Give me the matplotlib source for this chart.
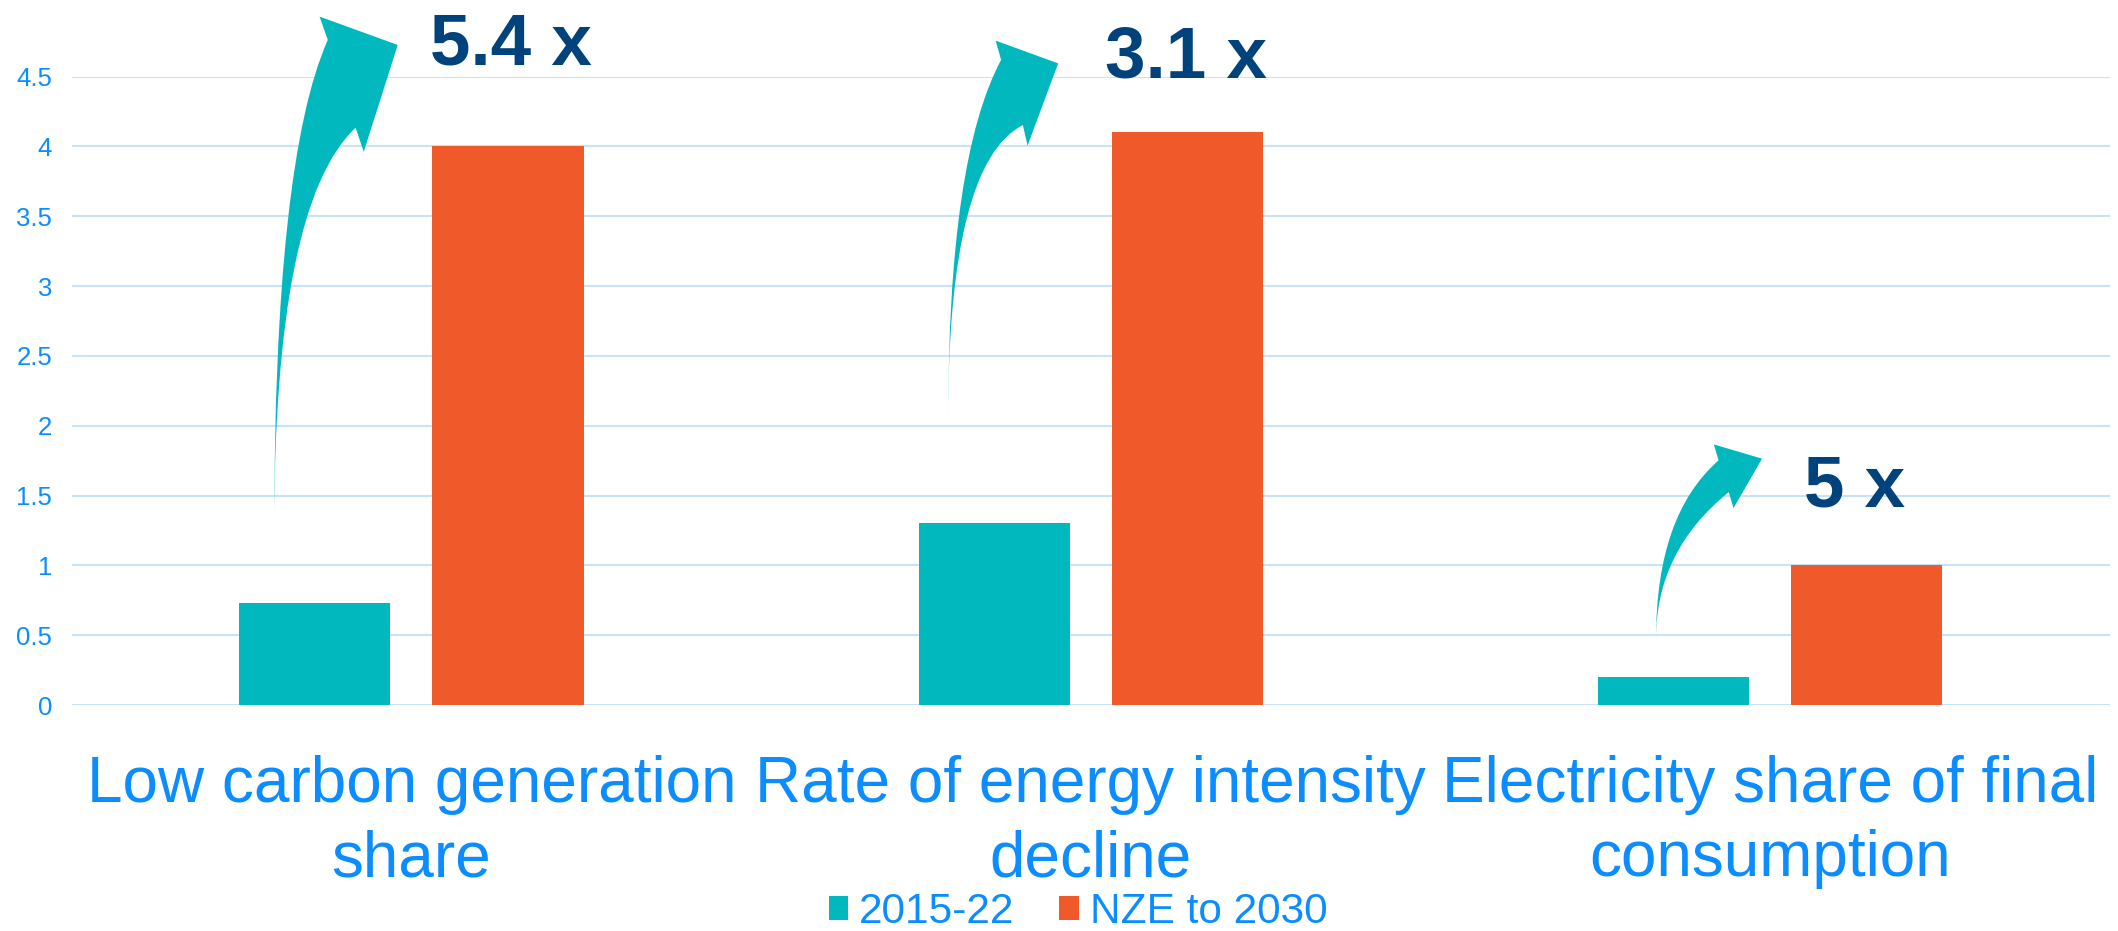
import matplotlib.pyplot as plt
import numpy as np
from matplotlib.path import Path
from matplotlib.patches import PathPatch

plt.rcParams['font.family'] = ['Liberation Sans', 'DejaVu Sans']

categories = ['Low carbon generation\nshare',
              'Rate of energy intensity\ndecline',
              'Electricity share of final\nconsumption']
series = ['2015-22', 'NZE to 2030']
hist = [0.73, 1.3, 0.2]
nze = [4.0, 4.1, 1.0]
multipliers = ['5.4 x', '3.1 x', '5 x']
yticks = [0, 0.5, 1, 1.5, 2, 2.5, 3, 3.5, 4, 4.5]
ytick_labels = ['0', '0.5', '1', '1.5', '2', '2.5', '3', '3.5', '4', '4.5']

teal = '#02b8bf'
orange = '#f05a2b'
blue = '#0b8cff'
navy = '#00427c'

# curved arrow outlines in data units:
# tail, outer ctrl, L, T, R(tip), B, N, inner ctrl
arrow_shapes = [
    [(-0.202, 1.234), (-0.202, 3.896), (-0.123, 4.762), (-0.135, 4.929),
     (-0.020, 4.726), (-0.070, 3.961), (-0.082, 4.134), (-0.202, 3.587)],
    [(0.790, 2.038), (0.790, 3.911), (0.868, 4.619), (0.860, 4.757),
     (0.952, 4.594), (0.907, 4.005), (0.900, 4.153), (0.790, 3.877)],
    [(1.832, 0.479), (1.832, 1.360), (1.924, 1.752), (1.917, 1.866),
     (1.988, 1.764), (1.946, 1.410), (1.939, 1.525), (1.832, 1.104)],
]
label_pos = [(0.027, 4.585), (1.021, 4.49), (2.050, 1.42)]

fig = plt.figure(figsize=(21.18, 9.31), dpi=100)
ax = fig.add_axes([0.0338, 0.2427, 0.9624, 0.6751])

x = np.arange(len(categories))
w = 0.2227
off = 0.1421
ax.bar(x - off, hist, w, color=teal, label=series[0], zorder=2)
ax.bar(x + off, nze, w, color=orange, label=series[1], zorder=2)

ax.set_xlim(-0.5, 2.5)
ax.set_ylim(0, 4.5)
ax.set_yticks(yticks, ytick_labels)
ax.set_xticks(x, categories)
ax.tick_params(axis='y', length=0, pad=14, labelsize=18.5, labelcolor=blue)
ax.tick_params(axis='x', length=0, pad=36, labelsize=46, labelcolor=blue)
for lab in ax.get_xticklabels():
    lab.set_linespacing(1.3)
ax.yaxis.grid(True, color='#c6e3fb', lw=1.5)
ax.set_axisbelow(True)
for s in ax.spines.values():
    s.set_visible(False)

codes = [Path.MOVETO, Path.CURVE3, Path.CURVE3, Path.LINETO, Path.LINETO,
         Path.LINETO, Path.LINETO, Path.CURVE3, Path.CURVE3, Path.CLOSEPOLY]
for shp in arrow_shapes:
    verts = shp + [shp[0], shp[0]]
    p = PathPatch(Path(verts, codes), facecolor=teal, edgecolor='none',
                  zorder=3, clip_on=False)
    ax.add_patch(p)

for (lx, ly), t in zip(label_pos, multipliers):
    ax.text(lx, ly, t, fontsize=52.5, fontweight='bold', color=navy,
            ha='left', va='baseline', clip_on=False)

fig.legend(loc='center', bbox_to_anchor=(0.509, 0.0204), ncol=2, frameon=False,
           fontsize=30.5, labelcolor=blue, handlelength=0.46, handleheight=0.5,
           handletextpad=0.26, columnspacing=1.05, borderpad=0)

fig.savefig('out.png', dpi=100)
